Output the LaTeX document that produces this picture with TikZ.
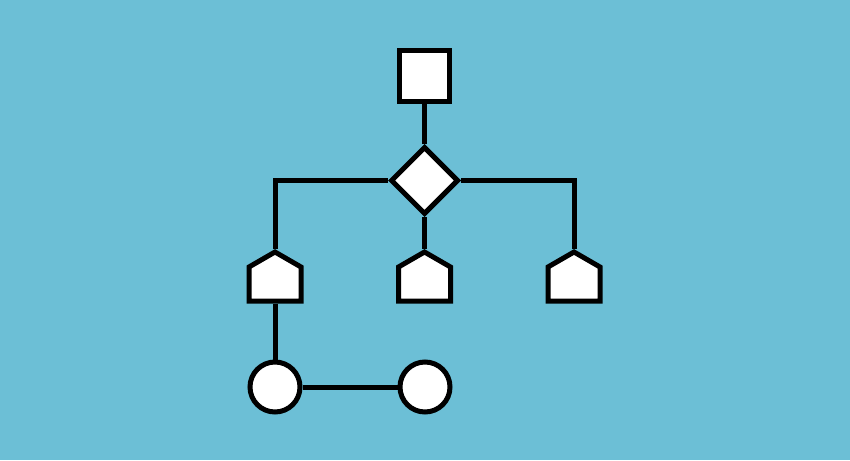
\documentclass[tikz,border=0pt]{standalone}
\usetikzlibrary{shapes.geometric,shapes.symbols}
\definecolor{bgblue}{RGB}{108,191,214}
\begin{document}
\begin{tikzpicture}[x=1pt,y=-1pt,
  every node/.style={draw=black,fill=white,line width=5pt,inner sep=0pt},
  sq/.style={rectangle,minimum size=50pt},
  dia/.style={diamond,minimum size=68pt},
  house/.style={signal,signal to=north,signal pointer angle=120,minimum width=52pt,minimum height=34pt},
  circ/.style={circle,minimum size=50pt},
  conn/.style={draw=black,line width=5pt}]
\fill[bgblue] (0,0) rectangle (850,460);
\useasboundingbox (0,0) rectangle (850,460);
\node[sq] (top) at (424.5,76) {};
\node[dia] (d) at (424.5,180.5) {};
\node[house] (h1) at (275,284) {};
\node[house] (h2) at (424.5,284) {};
\node[house] (h3) at (574,284) {};
\node[circ] (c1) at (275,387) {};
\node[circ] (c2) at (425,387) {};
\path[conn] (top.south) -- (d.north);
\path[conn] (d.west) -| (h1.north);
\path[conn] (d.east) -| (h3.north);
\path[conn] (d.south) -- (h2.north);
\path[conn] (h1.south) -- (c1.north);
\path[conn] (c1.east) -- (c2.west);
\end{tikzpicture}
\end{document}
